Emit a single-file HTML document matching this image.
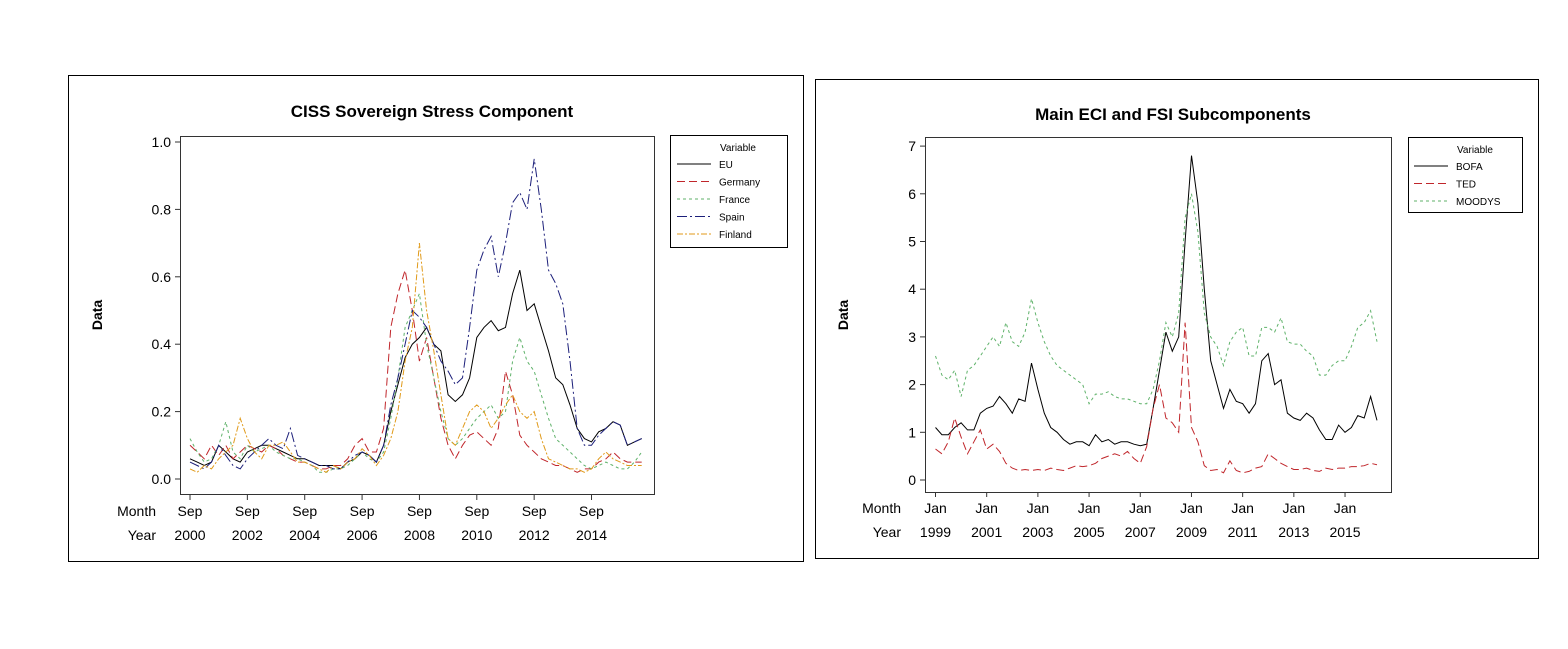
<!DOCTYPE html>
<html><head><meta charset="utf-8"><style>
body{margin:0;background:#fff;}
svg{display:block;font-family:"Liberation Sans",sans-serif;}
</style></head><body>
<svg id="s" width="1568" height="649" viewBox="0 0 1568 649">
<rect x="68.5" y="75.5" width="735" height="486" fill="#fff" stroke="#000"/>
<rect x="815.5" y="79.5" width="723" height="479" fill="#fff" stroke="#000"/>
<text x="432" y="117" font-size="17" font-weight="bold" text-anchor="middle">CISS Sovereign Stress Component</text>
<text x="1173" y="120" font-size="17" font-weight="bold" text-anchor="middle">Main ECI and FSI  Subcomponents</text>
<rect x="180.5" y="136.5" width="474" height="358" fill="none" stroke="#333"/>
<rect x="925.5" y="137.5" width="466" height="355" fill="none" stroke="#333"/>
<text transform="translate(102,315) rotate(-90)" font-size="14" font-weight="bold" text-anchor="middle">Data</text>
<text transform="translate(848,315) rotate(-90)" font-size="14" font-weight="bold" text-anchor="middle">Data</text>
<g>
<rect x="670.5" y="135.5" width="117" height="112" fill="#fff" stroke="#000"/>
<text x="720" y="151" font-size="10">Variable</text>
</g>
<g>
<rect x="1408.5" y="137.5" width="114" height="75" fill="#fff" stroke="#000"/>
<text x="1457" y="153" font-size="10">Variable</text>
</g>
<g id="L"></g><g id="R"></g>
</svg>
<script>
const ns="http://www.w3.org/2000/svg";
// Left chart data (quarterly from Sep 2000)
const leftYTicks=[0,0.2,0.4,0.6,0.8,1.0];
const leftXYears=["2000","2002","2004","2006","2008","2010","2012","2014"];
const euVals=[0.06,0.05,0.04,0.05,0.1,0.08,0.06,0.05,0.08,0.09,0.1,0.1,0.09,0.08,0.07,0.06,0.06,0.05,0.04,0.04,0.04,0.03,0.05,0.06,0.08,0.07,0.05,0.1,0.2,0.28,0.36,0.4,0.42,0.45,0.4,0.38,0.25,0.23,0.25,0.3,0.42,0.45,0.47,0.44,0.45,0.55,0.62,0.5,0.52,0.45,0.38,0.3,0.28,0.22,0.15,0.12,0.11,0.14,0.15,0.17,0.16,0.1,0.11,0.12];
const spainVals=[0.05,0.04,0.03,0.05,0.1,0.07,0.04,0.03,0.06,0.08,0.1,0.12,0.1,0.09,0.15,0.07,0.06,0.05,0.04,0.04,0.03,0.03,0.05,0.07,0.08,0.07,0.05,0.1,0.22,0.3,0.4,0.5,0.48,0.45,0.4,0.35,0.32,0.28,0.3,0.45,0.62,0.68,0.72,0.6,0.7,0.82,0.85,0.8,0.95,0.8,0.62,0.58,0.52,0.35,0.15,0.1,0.1,0.13,0.15,0.17,0.16,0.1,0.11,0.12];
const germanyVals=[0.1,0.08,0.06,0.1,0.07,0.1,0.06,0.08,0.1,0.09,0.08,0.1,0.09,0.07,0.06,0.05,0.05,0.04,0.03,0.03,0.04,0.04,0.06,0.1,0.12,0.08,0.08,0.15,0.45,0.55,0.62,0.5,0.35,0.42,0.3,0.18,0.1,0.06,0.1,0.13,0.14,0.12,0.1,0.15,0.32,0.25,0.13,0.1,0.08,0.06,0.05,0.04,0.04,0.03,0.02,0.03,0.03,0.05,0.06,0.08,0.06,0.05,0.05,0.05];
const franceVals=[0.12,0.08,0.05,0.06,0.1,0.17,0.08,0.06,0.1,0.08,0.09,0.1,0.08,0.07,0.06,0.06,0.05,0.04,0.02,0.02,0.03,0.03,0.04,0.06,0.08,0.06,0.05,0.08,0.18,0.3,0.45,0.5,0.55,0.4,0.3,0.2,0.12,0.1,0.12,0.15,0.18,0.2,0.22,0.18,0.2,0.35,0.42,0.35,0.32,0.25,0.18,0.12,0.1,0.08,0.06,0.04,0.03,0.04,0.05,0.04,0.03,0.03,0.05,0.08];
const finlandVals=[0.03,0.02,0.04,0.03,0.06,0.08,0.1,0.18,0.12,0.08,0.06,0.1,0.1,0.11,0.08,0.05,0.05,0.04,0.03,0.02,0.04,0.03,0.05,0.06,0.09,0.07,0.04,0.07,0.12,0.2,0.35,0.45,0.7,0.5,0.38,0.25,0.12,0.1,0.15,0.2,0.22,0.2,0.15,0.18,0.22,0.25,0.2,0.18,0.2,0.12,0.06,0.05,0.04,0.03,0.03,0.02,0.03,0.06,0.08,0.06,0.05,0.04,0.04,0.04];
// Right chart data (quarterly from Jan 1999)
const rightYTicks=[0,1,2,3,4,5,6,7];
const rightXYears=["1999","2001","2003","2005","2007","2009","2011","2013","2015"];
const bofaVals=[1.1,0.95,0.95,1.1,1.2,1.05,1.05,1.4,1.5,1.55,1.75,1.6,1.4,1.7,1.65,2.45,1.9,1.4,1.1,1.0,0.85,0.75,0.8,0.8,0.72,0.95,0.8,0.85,0.75,0.8,0.8,0.75,0.72,0.75,1.5,2.3,3.1,2.7,3.0,5.0,6.8,5.8,4.0,2.5,2.0,1.5,1.9,1.65,1.6,1.4,1.6,2.5,2.65,2.0,2.1,1.4,1.3,1.25,1.4,1.3,1.05,0.85,0.85,1.15,1.0,1.1,1.35,1.3,1.75,1.25];
const tedVals=[0.65,0.55,0.8,1.3,0.9,0.55,0.8,1.05,0.65,0.75,0.6,0.35,0.25,0.2,0.22,0.2,0.22,0.2,0.25,0.22,0.2,0.25,0.3,0.28,0.3,0.35,0.45,0.5,0.55,0.5,0.6,0.45,0.35,0.7,1.5,2.0,1.3,1.2,1.0,3.3,1.1,0.8,0.3,0.2,0.22,0.15,0.4,0.2,0.15,0.18,0.25,0.28,0.55,0.45,0.35,0.28,0.22,0.22,0.25,0.2,0.18,0.25,0.22,0.25,0.25,0.28,0.28,0.3,0.35,0.32];
const moodysVals=[2.6,2.2,2.1,2.3,1.75,2.3,2.4,2.6,2.8,3.0,2.8,3.3,2.9,2.8,3.1,3.8,3.3,2.9,2.6,2.4,2.3,2.2,2.1,2.0,1.6,1.8,1.8,1.85,1.75,1.7,1.7,1.65,1.6,1.6,1.9,2.5,3.3,3.0,3.5,5.5,6.0,5.2,3.5,3.0,2.8,2.4,2.9,3.1,3.2,2.6,2.6,3.2,3.2,3.1,3.4,2.9,2.85,2.85,2.7,2.6,2.2,2.2,2.4,2.5,2.5,2.8,3.2,3.3,3.55,2.9];

function mk(tag,attrs,parent){const e=document.createElementNS(ns,tag);for(const k in attrs)e.setAttribute(k,attrs[k]);parent.appendChild(e);return e;}
function txt(parent,x,y,s,anchor,size){const t=mk('text',{x:x,y:y,'font-size':size||14,'text-anchor':anchor||'middle'},parent);t.textContent=s;return t;}

function chart(g,cfg){
  const xs=i=>cfg.x0+cfg.pxMonth*3*i;
  const ys=v=>cfg.yZero-(v/cfg.yUnit)*cfg.pxUnit;
  cfg.yTicks.forEach(v=>{
    const t=mk('line',{x1:cfg.frameL-5,x2:cfg.frameL,y1:ys(v),y2:ys(v),stroke:'#333'},g);
    
    
    const l=txt(g,cfg.frameL-9,ys(v)+5,cfg.yFmt(v),'end',14);
    
    
  });
  cfg.xYears.forEach((yr,k)=>{
    const x=cfg.x0+cfg.pxMonth*24*k;
    const t=mk('line',{x1:x,x2:x,y1:cfg.frameB,y2:cfg.frameB+5,stroke:'#333'},g);
    
    
    const a=txt(g,x,cfg.frameB+21,cfg.monthName);
    
    
    const b=txt(g,x,cfg.frameB+45,yr);
    
    
  });
  const m=txt(g,cfg.labelX,cfg.frameB+21,'Month','end');
  
  
  const y=txt(g,cfg.labelX,cfg.frameB+45,'Year','end');
  
  
  cfg.series.forEach((s,k)=>{
    const d=s.vals.map((v,i)=>(i?'L':'M')+xs(i).toFixed(1)+','+ys(v).toFixed(1)).join('');
    const p=mk('path',{d:d,fill:'none',stroke:s.color,'stroke-width':1,'stroke-dasharray':s.dash},g);
    
    
    const ly=cfg.legY+k*17.5;
    const ll=mk('line',{x1:cfg.legX,x2:cfg.legX+34,y1:ly,y2:ly,stroke:s.color,'stroke-dasharray':s.dash},g);
    
    
    const lt=txt(g,cfg.legX+42,ly+4,s.name,'start',10);
    
    
  });
}
chart(document.getElementById('L'),{x0:190,pxMonth:2.39,yZero:479,yUnit:0.2,pxUnit:67.4,frameL:180,frameB:495,
  yTicks:leftYTicks,yFmt:v=>v.toFixed(1),xYears:leftXYears,monthName:'Sep',labelX:156,legX:677,legY:164,
  series:[{name:'EU',vals:euVals,color:'#000',dash:'none'},
          {name:'Germany',vals:germanyVals,color:'#c0262b',dash:'8,4'},
          {name:'France',vals:franceVals,color:'#5fb26a',dash:'3,3'},
          {name:'Spain',vals:spainVals,color:'#1c1f7a',dash:'10,3,2,3'},
          {name:'Finland',vals:finlandVals,color:'#e09a1a',dash:'6,2,2,2'}]});
chart(document.getElementById('R'),{x0:935.5,pxMonth:2.133,yZero:480,yUnit:1,pxUnit:47.7,frameL:925,frameB:492,
  yTicks:rightYTicks,yFmt:v=>String(v),xYears:rightXYears,monthName:'Jan',labelX:901,legX:1414,legY:166,
  series:[{name:'BOFA',vals:bofaVals,color:'#000',dash:'none'},
          {name:'TED',vals:tedVals,color:'#c0262b',dash:'8,4'},
          {name:'MOODYS',vals:moodysVals,color:'#5fb26a',dash:'3,3'}]});
</script>
</body></html>
